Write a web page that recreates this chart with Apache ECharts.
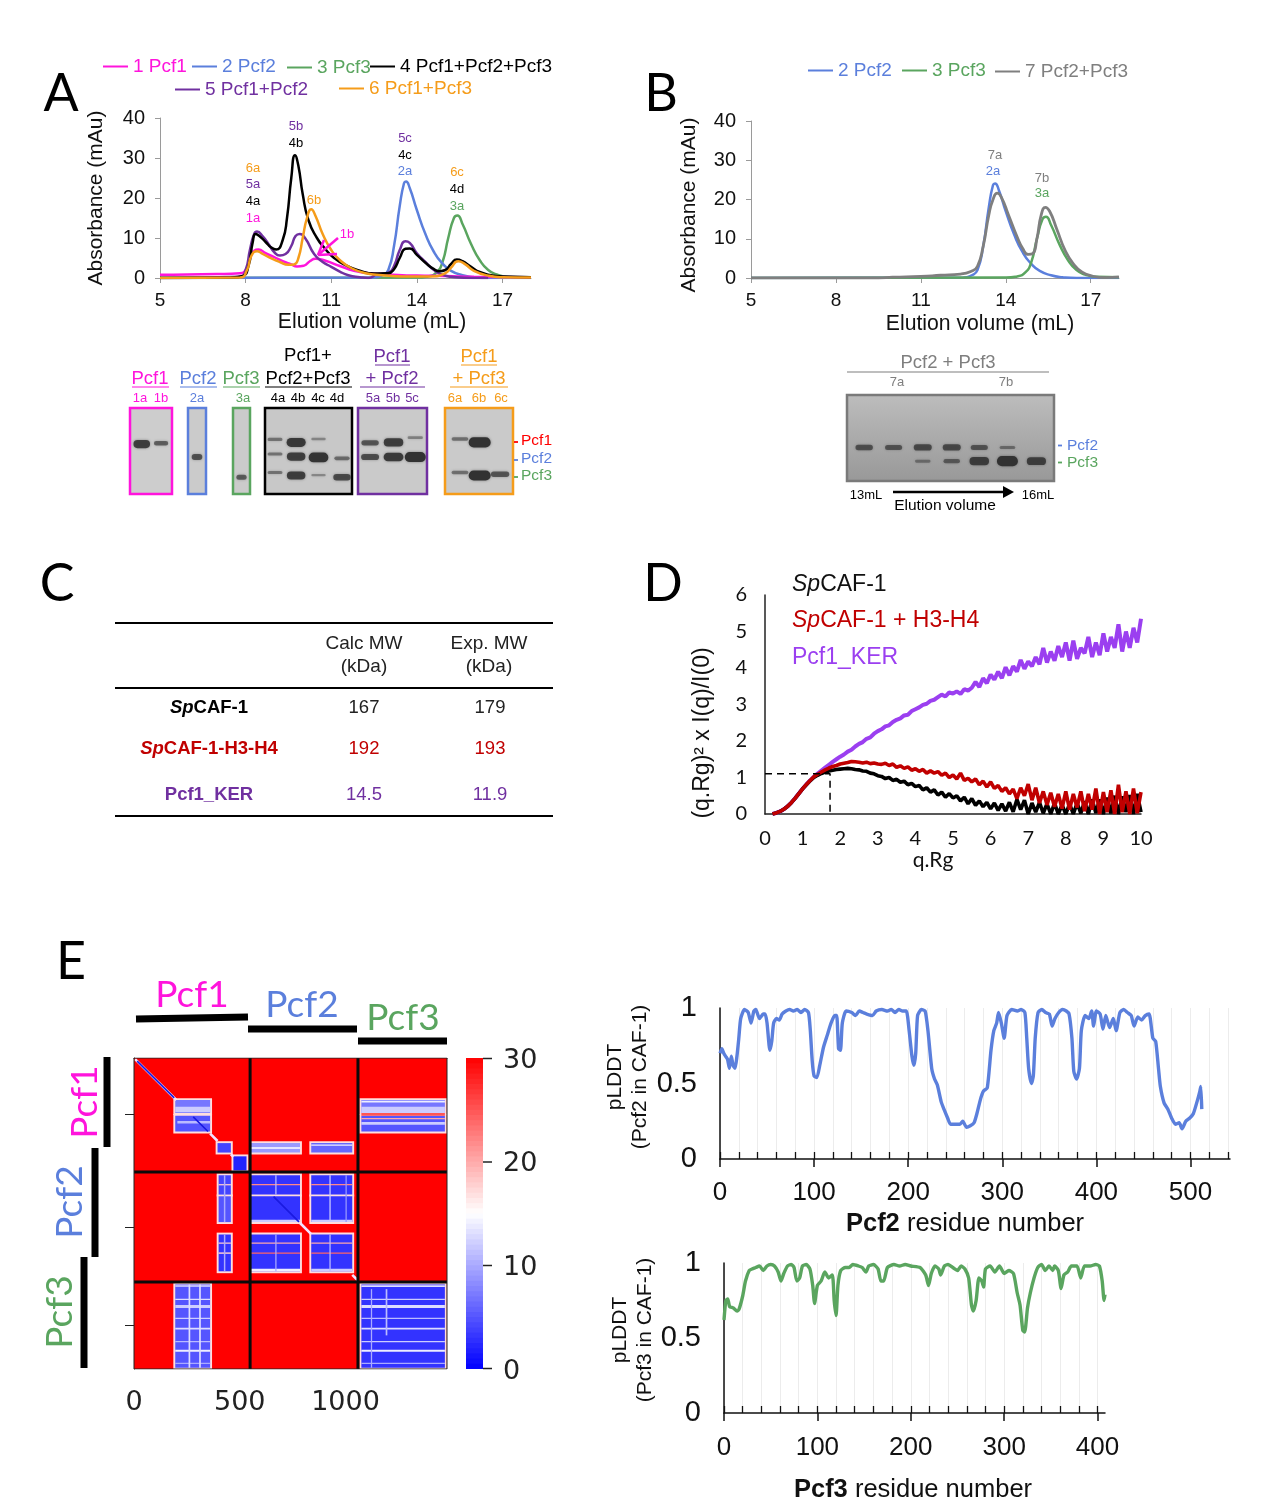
<!DOCTYPE html>
<html><head><meta charset="utf-8">
<style>html,body{margin:0;padding:0;background:#fff}#c{width:1264px;height:1500px}</style>
<script src="https://cdn.jsdelivr.net/npm/echarts@6/dist/echarts.min.js"></script>
</head><body><div id="c"></div>
<script>
// ---------- DATA ----------
const elutionTicks=[5,8,11,14,17];
const pcf1A=[[5,.8],[7,1],[7.8,1.2],[8,2],[8.15,5],[8.3,6.8],[8.45,7.1],[8.7,6.2],[9,5.2],[9.3,4.2],[9.6,3.4],[9.8,2.9],[10.05,3.1],[10.25,4.2],[10.45,4.8],[10.8,4.3],[11.3,3],[11.8,1.8],[12.3,1.2],[13,.9],[14,.6],[15,.5],[16,.3],[18,.2]];
const blue2=[[5,0],[12.5,.1],[12.8,.7],[13,2],[13.2,8],[13.4,18],[13.55,23.7],[13.62,24.1],[13.75,22.5],[14,17],[14.3,11],[14.6,6.5],[14.9,3.6],[15.2,1.8],[15.6,.7],[16,.2],[16.5,0],[18,0]];
const green3=[[5,0],[14,.1],[14.4,.4],[14.7,1.5],[14.9,4],[15.1,10],[15.3,15],[15.42,15.6],[15.6,13.5],[15.9,8.5],[16.2,4.5],[16.5,2],[16.8,.9],[17.2,.3],[18,.2]];
const black4=[[5,0],[7.5,.1],[7.9,.5],[8.1,3],[8.25,9],[8.35,11],[8.5,10.4],[8.7,9],[8.9,7.6],[9.07,7.1],[9.3,9.5],[9.45,15],[9.6,25],[9.73,30.7],[9.85,28],[10,21],[10.2,14.5],[10.5,10],[10.8,7.2],[11.1,5],[11.5,3.2],[12,1.8],[12.5,1.1],[13,1.2],[13.2,2.2],[13.4,5],[13.6,7.3],[13.75,7.4],[14,5.8],[14.3,3.8],[14.6,2.2],[14.8,1.7],[15,2],[15.2,3.5],[15.4,4.6],[15.6,4.2],[15.9,2.8],[16.2,1.5],[16.6,.7],[17,.4],[18,.2]];
const purple5=[[5,0],[7.8,.3],[8,2],[8.15,7],[8.3,11],[8.4,11.6],[8.6,10.4],[8.8,8.5],[9,6.5],[9.2,5.6],[9.4,6],[9.6,8],[9.75,10.5],[9.9,11],[10.1,9.8],[10.4,6],[10.7,4],[11,2.8],[11.3,1.6],[11.6,.7],[12,.2],[12.3,0],[12.6,.9],[13,1.3],[13.2,3],[13.4,7],[13.6,9.2],[13.75,8.8],[14,6.2],[14.3,4],[14.6,2],[14.9,.8],[15.2,.3],[16,0],[16.5,0]];
const orange6=[[5,0],[7.8,.1],[8.05,2],[8.2,5.5],[8.4,6.7],[8.6,6],[8.9,4.9],[9.2,4],[9.5,3.3],[9.7,3.4],[9.85,5],[10,10],[10.15,15],[10.3,17.2],[10.45,15.5],[10.7,11],[11,7],[11.3,4.5],[11.7,2.5],[12.2,1.2],[12.8,.7],[13.5,.4],[14.5,.4],[15,1.2],[15.2,2.6],[15.45,4.2],[15.7,3.4],[16,1.8],[16.5,.6],[17,.2],[18,.1]];
const gray7=[[5,0],[9.5,0],[10,.2],[11,.4],[11.7,.7],[12.4,1],[12.8,1.8],[13,3],[13.2,8],[13.4,16],[13.55,20],[13.7,21.6],[13.85,20.5],[14.1,16],[14.4,10.5],[14.6,7.5],[14.8,6],[14.95,6.2],[15.1,10],[15.25,16],[15.4,18],[15.55,17],[15.8,12.5],[16.1,7],[16.4,3.5],[16.7,1.5],[17,.6],[17.5,.1],[18,.3]];

const saxsQ=[.2,.3,.4,.5,.6,.7,.8,.9,1,1.1,1.2,1.3,1.4,1.5,1.6,1.7,1.8,1.9,2,2.1,2.2,2.3,2.4,2.5,2.6,2.7,2.8,2.9,3,3.1,3.2,3.3,3.4,3.5,3.6,3.7,3.8,3.9,4,4.1,4.2,4.3,4.4,4.5,4.6,4.7,4.8,4.9,5,5.1,5.2,5.3,5.4,5.5,5.6,5.7,5.8,5.9,6,6.1,6.2,6.3,6.4,6.5,6.6,6.7,6.8,6.9,7,7.1,7.2,7.3,7.4,7.5,7.6,7.7,7.8,7.9,8,8.1,8.2,8.3,8.4,8.5,8.6,8.7,8.8,8.9,9,9.1,9.2,9.3,9.4,9.5,9.6,9.7,9.8,9.9,10];
const saxsKer=[0,.03,.07,.13,.21,.31,.43,.56,.69,.81,.92,1.02,1.11,1.19,1.27,1.35,1.43,1.5,1.57,1.63,1.71,1.76,1.85,1.92,1.97,2.06,2.1,2.2,2.27,2.32,2.4,2.43,2.52,2.58,2.62,2.7,2.72,2.82,2.87,2.92,2.99,3.02,3.1,3.13,3.2,3.27,3.22,3.33,3.3,3.36,3.29,3.42,3.38,3.46,3.62,3.48,3.72,3.58,3.82,3.68,3.9,3.72,4.02,3.8,4.05,3.9,4.22,3.98,4.18,4.05,4.3,4.1,4.55,4.15,4.45,4.2,4.6,4.3,4.7,4.2,4.75,4.25,4.55,4.4,4.85,4.3,4.7,4.35,4.95,4.45,4.85,4.55,5.2,4.45,5,4.55,5.1,4.7,5.35];
const saxsH3H4=[0,.03,.07,.13,.21,.31,.43,.56,.69,.81,.92,1.02,1.09,1.15,1.21,1.26,1.3,1.33,1.37,1.39,1.41,1.44,1.43,1.42,1.4,1.42,1.38,1.4,1.37,1.36,1.39,1.33,1.37,1.28,1.32,1.25,1.29,1.2,1.24,1.17,1.22,1.12,1.18,1.12,1.16,1.06,1.12,1,1.07,.96,1.12,.92,.98,.88,.96,.8,.9,.74,.88,.7,.78,.62,.72,.55,.68,.42,.72,.5,.82,.38,.72,.3,.62,.25,.58,.2,.55,.15,.62,.12,.55,.18,.62,.08,.55,.12,.7,0,.6,.05,.65,0,.8,.05,.62,0,.7,.02,.6];
const saxsCaf=[0,.03,.07,.13,.21,.31,.43,.56,.69,.8,.91,1,1.06,1.11,1.15,1.18,1.2,1.22,1.23,1.24,1.25,1.24,1.22,1.21,1.18,1.17,1.12,1.1,1.05,1.03,.97,1,.92,.95,.87,.9,.8,.84,.75,.78,.66,.72,.6,.66,.52,.6,.46,.56,.44,.5,.36,.46,.28,.42,.24,.36,.2,.32,.14,.3,.1,.28,.08,.32,.06,.4,.12,.38,0,.3,.05,.32,.02,.28,0,.3,0,.25,0,.28,0,.3,.02,.35,0,.4,.03,.4,0,.45,.02,.5,0,.48,.05,.52,0,.55,.05];
const saxsGuide=[[0,1.1],[1.73,1.1],[1.73,0]];

const plddtPcf2=[[0,.7],[2,.73],[4,.7],[6,.68],[8,.66],[10,.6],[12,.68],[14,.62],[16,.6],[18,.68],[20,.8],[22,.93],[26,.99],[30,.97],[33,.9],[36,.98],[38,.99],[42,.93],[46,.96],[48,.96],[50,.9],[53,.72],[55,.78],[57,.9],[60,.93],[63,.92],[66,.96],[70,.98],[74,.99],[78,.98],[82,.99],[86,.97],[90,.99],[94,.97],[96,.85],[98,.65],[100,.55],[103,.54],[106,.62],[110,.74],[114,.82],[118,.9],[122,.95],[124,.95],[126,.73],[128,.72],[130,.9],[134,.98],[140,.97],[144,.95],[148,.98],[152,.97],[156,.96],[162,.95],[166,.98],[172,.99],[178,.98],[182,.99],[186,.97],[190,.99],[194,.98],[198,.98],[201,.85],[204,.68],[206,.62],[208,.7],[210,.95],[214,.99],[218,.98],[221,.85],[225,.6],[228,.53],[231,.49],[235,.38],[238,.33],[242,.27],[245,.23],[250,.23],[255,.23],[258,.25],[262,.21],[266,.22],[270,.24],[273,.3],[277,.4],[280,.45],[284,.47],[288,.72],[291,.85],[294,.9],[296,.97],[299,.9],[302,.8],[305,.95],[310,.99],[316,.98],[320,.99],[324,.97],[326,.8],[328,.6],[331,.5],[333,.55],[335,.8],[338,.97],[342,.99],[346,.97],[350,.96],[353,.88],[356,.93],[360,.97],[364,.99],[368,.98],[371,.96],[374,.8],[376,.58],[379,.53],[382,.6],[384,.85],[388,.95],[392,.93],[395,.98],[397,.88],[400,.98],[404,.96],[407,.86],[410,.95],[414,.87],[418,.93],[421,.85],[425,.97],[429,.99],[433,.97],[437,.95],[440,.88],[444,.94],[448,.92],[452,.95],[456,.96],[460,.8],[463,.78],[466,.6],[468,.48],[472,.37],[476,.33],[480,.27],[484,.23],[488,.24],[491,.2],[495,.25],[499,.27],[503,.3],[507,.38],[510,.45],[511,.48],[512,.33]];
const plddtPcf3=[[0,.62],[2,.75],[4,.76],[6,.71],[10,.7],[14,.68],[16,.69],[20,.78],[23,.88],[27,.95],[30,.96],[34,.97],[38,.98],[42,.95],[46,.98],[50,.99],[54,.98],[58,.94],[61,.88],[64,.93],[68,.98],[72,.99],[75,.97],[78,.88],[81,.9],[84,.98],[88,.99],[92,.96],[95,.85],[97,.73],[100,.85],[104,.88],[108,.94],[112,.9],[116,.92],[118,.75],[120,.65],[122,.85],[125,.95],[130,.97],[134,.97],[138,.99],[144,.98],[148,.97],[152,.94],[155,.98],[160,.99],[165,.96],[168,.88],[171,.88],[175,.97],[182,.99],[188,.98],[194,.99],[200,.98],[210,.97],[216,.92],[219,.85],[222,.93],[226,.98],[230,.96],[232,.92],[236,.98],[240,.99],[245,.97],[250,.95],[254,.98],[258,.96],[262,.9],[265,.72],[267,.68],[270,.75],[273,.9],[276,.88],[278,.84],[280,.96],[285,.98],[290,.94],[295,.98],[300,.93],[305,.95],[310,.93],[314,.8],[317,.72],[320,.55],[322,.54],[325,.7],[328,.8],[332,.9],[336,.97],[340,.99],[344,.95],[348,.98],[352,.95],[354,.98],[358,.95],[361,.83],[364,.92],[368,.94],[372,.98],[378,.98],[382,.9],[386,.98],[392,.98],[398,.99],[402,.98],[405,.88],[407,.75],[408,.79]];
const residueMajorPcf2=[0,100,200,300,400,500];
const residueMinorPcf2=[0,20,40,60,80,100,120,140,160,180,200,220,240,260,280,300,320,340,360,380,400,420,440,460,480,500,520,540];
const residueMajorPcf3=[0,100,200,300,400];
const residueMinorPcf3=[0,20,40,60,80,100,120,140,160,180,200,220,240,260,280,300,320,340,360,380,400];

// PAE regions: x0,x1,y0,y1,value
const paeBackground=[[0,1480,0,1480,30]];
const paeRegions=[[195,360,200,262,7],[195,360,275,350,5],[395,458,405,450,4],[470,532,468,535,2],
[553,785,405,450,9],[838,1032,405,450,6],[1075,1470,200,262,7],[1075,1470,275,350,5],
[400,458,558,650,4],[400,458,658,781,5],[400,458,840,1015,3],
[553,785,558,650,3],[553,785,658,781,3],[553,785,840,1015,3],[838,1032,558,650,3],[838,1032,658,781,3],[838,1032,840,1015,3],
[195,360,1078,1474,5],[1075,1470,1078,1474,3]];
const paeStripes=[
[1075,1470,204,212,14],[1075,1470,232,262,12],[1075,1470,262,275,25],[1075,1470,285,292,20],[1075,1470,305,318,12],
[195,360,232,258,12],[205,360,300,312,11],
[553,785,425,432,15],[838,1032,412,418,14],
[553,785,600,606,22],[838,1032,600,606,22],[400,458,600,606,18],
[553,785,878,884,20],[838,1032,878,884,20],[400,458,878,884,18],
[553,785,925,932,24],[838,1032,925,932,24],[400,458,925,932,18],
[553,785,770,780,12],[838,1032,770,780,12],[553,785,1003,1015,14],[838,1032,1003,1015,12],
[425,432,558,781,10],[425,432,840,1015,10],
[668,674,558,650,11],[668,674,840,1015,10],[924,930,558,781,12],[924,930,840,1015,11],[1000,1006,558,781,9],
[195,360,1082,1088,13],[1075,1470,1082,1090,13],[195,360,1146,1152,13],[1075,1470,1146,1152,12],
[195,360,1176,1190,12],[1075,1470,1176,1190,13],[195,360,1236,1242,12],[1075,1470,1236,1242,11],
[195,360,1284,1292,13],[1075,1470,1284,1292,13],[195,360,1347,1353,11],[1075,1470,1347,1353,12],
[195,360,1388,1398,14],[1075,1470,1388,1398,14],[195,360,1450,1456,10],[1075,1470,1450,1456,10],
[258,266,1078,1474,13],[308,316,1078,1474,13],[1190,1198,1100,1320,11],[1120,1126,1100,1474,10]];
const paeDiagonal=[[5,5],[200,200],['-','-'],[360,360],[395,395],['-','-'],[458,458],[470,470],['-','-'],[785,785],[838,838],['-','-'],[1032,1032],[1060,1060]];
const paeDiagonalCore=[[15,15],[190,190],['-','-'],[280,280],[350,350],['-','-'],[660,660],[780,780]];
const paeDividers=[[549,0],[549,1480],['-','-'],[1059,0],[1059,1480],['-','-'],[0,543],[1480,543],['-','-'],[0,1066],[1480,1066]];
const paeFrame=[[0,0],[1480,0],[1480,1480],[0,1480],[0,0]];
const paeTicksX=[0,500,1000];
const paeTicksY=[270,805,1274];
const colorLevels=[0,.5,1,1.5,2,2.5,3,3.5,4,4.5,5,5.5,6,6.5,7,7.5,8,8.5,9,9.5,10,10.5,11,11.5,12,12.5,13,13.5,14,14.5,15,15.5,16,16.5,17,17.5,18,18.5,19,19.5,20,20.5,21,21.5,22,22.5,23,23.5,24,24.5,25,25.5,26,26.5,27,27.5,28,28.5,29,29.5];
const colorTicks=[0,10,20,30];

// gels: relative lane x, migration, intensity
const gelPcf1=[[.28,.42,.75],[.74,.41,.3]];
const gelPcf2=[[.5,.57,.45]];
const gelPcf3=[[.5,.805,.35]];
const gelFull=[[.115,.365,.12],[.115,.535,.12],[.115,.75,.12],[.358,.4,.85],[.358,.565,.75],[.358,.785,.75],[.615,.36,.03],[.615,.575,.95],[.615,.78,.02],[.885,.585,.18],[.885,.805,.55]];
const gelPcf12=[[.175,.405,.4],[.175,.57,.5],[.515,.4,.75],[.515,.57,.8],[.83,.345,.05],[.83,.57,1]];
const gelPcf13=[[.22,.36,.15],[.22,.75,.15],[.51,.4,1],[.51,.785,1],[.81,.77,.4]];
const gelB=[[.083,.61,.4],[.225,.61,.35],[.366,.61,.5],[.506,.61,.5],[.639,.61,.35],[.775,.61,.1],[.366,.77,.08],[.506,.77,.25],[.639,.77,.75],[.775,.77,1],[.915,.77,.7]];

const tableHeader=['Calc MW','(kDa)','Exp. MW','(kDa)'];
const tableRows=[['{i|Sp}CAF-1','167','179','#000000'],['{i|Sp}CAF-1-H3-H4','192','193','#c00000'],['Pcf1_KER','14.5','11.9','#7030a0']];

// ---------- COLOURS / FONTS ----------
const MAG='#ff14dc',BLU='#5b7fdc',GRN='#5aa55f',PUR='#7030a0',ORA='#f59c1a',GRY='#7f7f7f',VIO='#9b3ff0',DRD='#c00000';
const AR='"Liberation Sans"',LA='Lato';

const grids=[],xAxes=[],yAxes=[],series=[],graphic=[],legends=[];
function addGrid(g,x,y){grids.push(Object.assign({containLabel:false},g));const i=grids.length-1;
  xAxes.push(Object.assign({gridIndex:i,type:'value',splitLine:{show:false}},x));
  yAxes.push(Object.assign({gridIndex:i,type:'value',splitLine:{show:false}},y));return i;}
function line(name,data,color,g,width,extra){series.push(Object.assign({name,type:'line',data,xAxisIndex:g,yAxisIndex:g,showSymbol:false,symbol:'none',
  smooth:0.55,lineStyle:{color,width:width||2.5},itemStyle:{color},silent:true,animation:false,z:3},extra||{}));}

function txt(t,x,y,size,fill,o){o=o||{};graphic.push({type:'text',x,y,rotation:o.rot||0,z:100,style:{text:t,fill,fontSize:size,fontFamily:o.font||AR,fontWeight:o.w||'normal',fontStyle:o.st||'normal',align:o.align||'center',verticalAlign:'middle',rich:o.rich}});}
function seg(x1,y1,x2,y2,c,w,o){graphic.push({type:'line',z:100,shape:{x1,y1,x2,y2},style:Object.assign({stroke:c,lineWidth:w||1},o||{})});}
function leg(name,left,top,color){legends.push({data:[{name,textStyle:{color}}],left,top,icon:'rect',itemWidth:25,itemHeight:2,padding:0,itemGap:0,selectedMode:false,textStyle:{fontFamily:AR,fontSize:19}});}

// ---------- A & B chromatograms ----------
function chromAxes(){return [
 {min:5,max:18,axisLine:{onZero:false,lineStyle:{color:'#9a9a9a'}},axisTick:{length:5,lineStyle:{color:'#9a9a9a'},customValues:elutionTicks},axisLabel:{color:'#111',fontFamily:AR,fontSize:19,margin:13,customValues:elutionTicks}},
 {min:0,max:40,interval:10,axisLine:{show:true,lineStyle:{color:'#9a9a9a'}},axisTick:{show:true,length:5,lineStyle:{color:'#9a9a9a'}},axisLabel:{color:'#111',fontFamily:AR,fontSize:20,margin:15}}];}
let a=chromAxes();const gA=addGrid({left:160,top:118,width:371,height:160},a[0],a[1]);
line('3 Pcf3',green3,GRN,gA);line('2 Pcf2',blue2,BLU,gA);line('1 Pcf1',pcf1A,MAG,gA);line('5 Pcf1+Pcf2',purple5,PUR,gA);line('4 Pcf1+Pcf2+Pcf3',black4,'#000',gA);line('6 Pcf1+Pcf3',orange6,ORA,gA);
a=chromAxes();const gB=addGrid({left:751,top:121,width:368,height:157},a[0],a[1]);
line('2 Pcf2',blue2,BLU,gB);line('3 Pcf3',green3,GRN,gB);line('7 Pcf2+Pcf3',gray7,GRY,gB,2.8);

leg('1 Pcf1',103,57,MAG);leg('2 Pcf2',192,57,BLU);leg('3 Pcf3',287,58,GRN);leg('4 Pcf1+Pcf2+Pcf3',370,57,'#000');
leg('5 Pcf1+Pcf2',175,80,PUR);leg('6 Pcf1+Pcf3',339,79,ORA);
leg('2 Pcf2',808,61,BLU);leg('3 Pcf3',902,61,GRN);leg('7 Pcf2+Pcf3',995,62,GRY);

txt('Absorbance (mAu)',96,198,21,'#111',{rot:Math.PI/2});
txt('Elution volume (mL)',372,322,21.2,'#111');
txt('Absorbance (mAu)',689,205,21,'#111',{rot:Math.PI/2});
txt('Elution volume (mL)',980,324,21.2,'#111');
[['6a',253,168,ORA],['5a',253,184,PUR],['4a',253,201,'#000'],['1a',253,218,MAG],['5b',296,126,PUR],['4b',296,143,'#000'],['5c',405,138,PUR],['4c',405,155,'#000'],['2a',405,171,BLU],['6c',457,172,ORA],['4d',457,189,'#000'],['3a',457,206,GRN],['6b',314,200,ORA],['1b',347,234,MAG],['7a',995,155,GRY],['2a',993,171,BLU],['7b',1042,178,GRY],['3a',1042,193,GRN]]
 .forEach(l=>txt(l[0],l[1],l[2],13,l[3]));
seg(338,238,318,255,MAG,2.5);seg(318,255,337,254,MAG,2.5);seg(318,255,324,240,MAG,2.5);

// ---------- Gels ----------
function gel(data,left,top,width,height,border,bg,laneW){
 const g=addGrid({left,top,width,height,show:true,backgroundColor:bg,borderColor:border,borderWidth:2.5},{min:0,max:1,show:false},{min:0,max:1,inverse:true,show:false});
 series.push({type:'custom',xAxisIndex:g,yAxisIndex:g,data,silent:true,animation:false,clip:true,z:3,renderItem:(p,api)=>{
   const c=api.coord([api.value(0),api.value(1)]),i=api.value(2),w=laneW*(.75+.3*i),h=2.2+8*i;
   return {type:'rect',shape:{x:c[0]-w/2,y:c[1]-h/2,width:w,height:h,r:h/2},style:{fill:'rgba(50,50,50,'+(.3+.7*Math.pow(i,.6)).toFixed(2)+')',shadowBlur:3,shadowColor:'rgba(60,60,60,.55)'}};}});
}
const vGrad=(t,b)=>new echarts.graphic.LinearGradient(0,0,0,1,[{offset:0,color:t},{offset:1,color:b}]);
gel(gelPcf1,130,408,42,86,MAG,'#cdcdcd',17);
gel(gelPcf2,188,408,18,86,BLU,'#cbcbcb',12);
gel(gelPcf3,233,408,17,86,GRN,'#cbcbcb',12);
gel(gelFull,265,408,87,86,'#000','#c8c8c8',19);
gel(gelPcf12,358,408,69,86,PUR,'#cacaca',20);
gel(gelPcf13,445,408,68,86,ORA,'#cacaca',21);
gel(gelB,847,395,207,86,'#7a7a7a',vGrad('#bdbdbd','#989898'),20);

[['Pcf1',150,379,MAG,132,169],['Pcf2',198,379,BLU,180,217],['Pcf3',241,379,GRN,223,260],['Pcf2+Pcf3',308,379,'#000',265,352],['+ Pcf2',392,379,PUR,360,425],['+ Pcf3',479,379,ORA,450,508]]
 .forEach(l=>{txt(l[0],l[1],l[2],18.5,l[3]);seg(l[4],387,l[5],387,l[3],1.2);});
txt('Pcf1+',308,356,18.5,'#000');
txt('Pcf1',392,357,18.5,PUR);seg(375,365,410,365,PUR,1.2);
txt('Pcf1',479,357,18.5,ORA);seg(461,365,497,365,ORA,1.2);
[['1a',140,MAG],['1b',161,MAG],['2a',197,BLU],['3a',243,GRN],['4a',278,'#000'],['4b',298,'#000'],['4c',318,'#000'],['4d',337,'#000'],['5a',373,PUR],['5b',393,PUR],['5c',412,PUR],['6a',455,ORA],['6b',479,ORA],['6c',501,ORA]]
 .forEach(l=>txt(l[0],l[1],398,13,l[2]));
[['Pcf1',441,'#ff0000'],['Pcf2',459,BLU],['Pcf3',476,GRN]].forEach(l=>{txt(l[0],521,l[1],15.5,l[2],{align:'left'});seg(514,l[1]+1,518,l[1]+1,l[2],1.8);});
txt('Pcf2 + Pcf3',948,363,18.5,GRY);seg(847,372,1049,372,GRY,1.2);
txt('7a',897,382,13,GRY);txt('7b',1006,382,13,GRY);
[['Pcf2',446,BLU],['Pcf3',463,GRN]].forEach(l=>{txt(l[0],1067,l[1],15.5,l[2],{align:'left'});seg(1058,l[1]-.5,1062,l[1]-.5,l[2],1.8);});
txt('13mL',866,495,13,'#000');txt('16mL',1038,495,13,'#000');txt('Elution volume',945,506,15.5,'#000');
seg(893,492,1004,492,'#000',2.5);
graphic.push({type:'polygon',z:100,shape:{points:[[1003,486],[1014,492],[1003,498]]},style:{fill:'#000'}});

// ---------- C table ----------
[623,688,816].forEach(y=>seg(115,y,553,y,'#000',2));
txt(tableHeader[0],364,644,19,'#222');txt(tableHeader[1],364,667,19,'#222');txt(tableHeader[2],489,644,19,'#222');txt(tableHeader[3],489,667,19,'#222');
const rowY=[708,749,795];
tableRows.forEach((r,i)=>{
 txt(r[0],209,rowY[i],18.5,r[3],{w:'bold',rich:{i:{fontStyle:'italic',fontWeight:'bold',fontFamily:AR,fontSize:18.5,fill:r[3]}}});
 txt(r[1],364,rowY[i],18.5,r[3]==='#000000'?'#222':r[3]);txt(r[2],490,rowY[i],18.5,r[3]==='#000000'?'#222':r[3]);
});

// ---------- D SAXS ----------
const gD=addGrid({left:765,top:595,width:376,height:219},
 {min:0,max:10,interval:1,axisLine:{lineStyle:{color:'#222',width:1.5}},axisTick:{show:false},axisLabel:{color:'#111',fontFamily:LA,fontSize:20,margin:15}},
 {min:0,max:6,interval:1,axisLine:{show:true,lineStyle:{color:'#222',width:1.5}},axisTick:{show:false},axisLabel:{color:'#111',fontFamily:LA,fontSize:20,margin:18}});
const zip=v=>saxsQ.map((q,i)=>[q,v[i]]);
line('Pcf1_KER',zip(saxsKer),VIO,gD,4,{smooth:false});
line('SpCAF-1',zip(saxsCaf),'#000',gD,3.6,{smooth:false});
line('SpCAF-1 + H3-H4',zip(saxsH3H4),DRD,gD,3.6,{smooth:false});
line('guide',saxsGuide,'#000',gD,1.5,{smooth:false,lineStyle:{color:'#000',width:1.5,type:[7,5]},z:5});
const spRich=c=>({i:{fontStyle:'italic',fontFamily:AR,fontSize:23,fill:c}});
txt('{i|Sp}CAF-1',792,585,23,'#111',{align:'left',rich:spRich('#111')});
txt('{i|Sp}CAF-1 + H3-H4',792,621,23,DRD,{align:'left',rich:spRich(DRD)});
txt('Pcf1_KER',792,658,23,VIO,{align:'left'});
txt('(q.Rg)\u00B2 x I(q)/I(0)',703,733,23,'#111',{rot:Math.PI/2});
txt('q.Rg',933,860,21,'#111',{font:LA});

// ---------- E PAE heat map ----------
function blockRender(p,api){const a=api.coord([api.value(0),api.value(2)]),b=api.coord([api.value(1),api.value(3)]);
 return {type:'rect',shape:{x:Math.min(a[0],b[0]),y:Math.min(a[1],b[1]),width:Math.abs(b[0]-a[0]),height:Math.abs(b[1]-a[1])},style:{fill:api.visual('color')}};}
const gH=addGrid({left:134,top:1058,width:313,height:311},
 {min:0,max:1480,axisLine:{lineStyle:{color:'#222',width:1}},axisTick:{length:8,lineStyle:{color:'#222'},customValues:paeTicksX},axisLabel:{color:'#222',fontFamily:'"DejaVu Sans"',fontSize:27,margin:20,formatter:v=>String(v),customValues:paeTicksX}},
 {min:0,max:1480,inverse:true,axisLine:{show:true,lineStyle:{color:'#222',width:1}},axisTick:{show:true,length:9,lineStyle:{color:'#222'},customValues:paeTicksY},axisLabel:{show:false}});
const halos=paeRegions.map(r=>[r[0]-9,r[1]+9,r[2]-9,r[3]+9,17]);
const heatCells=paeBackground.concat(halos,paeRegions,paeStripes);
const heatIdx=series.length;
series.push({type:'custom',xAxisIndex:gH,yAxisIndex:gH,data:heatCells,renderItem:blockRender,encode:{x:[0,1],y:[2,3]},silent:true,animation:false,clip:true,z:2});
line('diag',paeDiagonal,'#f4e0ff',gH,2.6,{smooth:false,z:3,connectNulls:false});
line('diagCore',paeDiagonalCore,'#1a1ae0',gH,1.6,{smooth:false,z:3,connectNulls:false});
line('dividers',paeDividers,'#0a0a0a',gH,3,{smooth:false,z:4,connectNulls:false});
line('frame',paeFrame,'#222',gH,1,{smooth:false,z:4});

const gC=addGrid({left:466,top:1058,width:17,height:311},{min:0,max:1,show:false},
 {min:0,max:30,position:'right',interval:10,axisLine:{show:false},axisTick:{show:false},axisLabel:{color:'#222',margin:20,customValues:colorTicks,formatter:'{a|{value}}',rich:{a:{fontFamily:'"DejaVu Sans"',fontSize:27,color:'#222',padding:[5,0,0,0]}}}});
const cbIdx=series.length;
series.push({type:'custom',xAxisIndex:gC,yAxisIndex:gC,data:colorLevels.map(v=>[0,1,v,v+.6,v+.25]),renderItem:blockRender,encode:{x:[0,1],y:[2,3]},silent:true,animation:false,clip:true,z:2});
[1058.5,1162,1265.5,1368.5].forEach(y=>seg(483,y,492,y,'#222',1.5));

txt('Pcf1',192,995,37,MAG,{font:LA});txt('Pcf2',302,1005,37,BLU,{font:LA});txt('Pcf3',403,1018,37,GRN,{font:LA});
seg(136,1019,248,1017,'#000',7);seg(248,1029,357,1029,'#000',7);seg(358,1041,447,1041,'#000',7);
seg(107,1057,107,1147,'#000',7);seg(95,1148,95,1257,'#000',7);seg(84,1257,84,1368,'#000',7);
txt('Pcf1',85,1102,37,MAG,{font:LA,rot:Math.PI/2});txt('Pcf2',70,1202,37,BLU,{font:LA,rot:Math.PI/2});txt('Pcf3',60,1312,37,GRN,{font:LA,rot:Math.PI/2});

// ---------- E pLDDT ----------
function plddt(name,data,color,left,top,width,height,max,maj,min,lm){
 grids.push({left,top,width,height,containLabel:false});const g=grids.length-1;
 const xi=xAxes.length;
 xAxes.push({gridIndex:g,type:'value',min:0,max,splitLine:{show:false},axisLine:{lineStyle:{color:'#111',width:1.5}},axisTick:{length:8,lineStyle:{color:'#111',width:1.5},customValues:maj},axisLabel:{color:'#111',fontFamily:AR,fontSize:26,margin:lm,customValues:maj}});
 xAxes.push({gridIndex:g,type:'value',min:0,max,position:'bottom',axisLine:{show:false},axisTick:{inside:true,length:7,lineStyle:{color:'#111',width:1.3},customValues:min},axisLabel:{show:false},splitLine:{show:true,lineStyle:{color:'#ececec',width:1}}});
 const yi=yAxes.length;
 yAxes.push({gridIndex:g,type:'value',min:0,max:1,interval:.5,splitLine:{show:false},axisLine:{show:true,lineStyle:{color:'#111',width:1.5}},axisTick:{show:false},axisLabel:{color:'#111',fontFamily:AR,fontSize:29,margin:23,padding:[4,0,0,0]}});
 series.push({name,type:'line',data,xAxisIndex:xi,yAxisIndex:yi,symbol:'none',showSymbol:false,smooth:.2,lineStyle:{color,width:3.4},itemStyle:{color},silent:true,animation:false,z:3});
}
plddt('Pcf2 pLDDT',plddtPcf2,BLU,720,1008,510,151,542,residueMajorPcf2,residueMinorPcf2,21);
plddt('Pcf3 pLDDT',plddtPcf3,GRN,724,1263,381,150,408,residueMajorPcf3,residueMinorPcf3,22);
txt('pLDDT',615,1077,21,'#111',{rot:Math.PI/2});txt('(Pcf2 in CAF-1)',640,1077,21,'#111',{rot:Math.PI/2});
txt('pLDDT',620,1330,21,'#111',{rot:Math.PI/2});txt('(Pcf3 in CAF-1)',645,1330,21,'#111',{rot:Math.PI/2});
const bRich={b:{fontWeight:'bold',fontFamily:AR,fontSize:25.5,fill:'#111'}};
txt('{b|Pcf2} residue number',965,1224,25.5,'#111',{rich:bRich});
txt('{b|Pcf3} residue number',913,1490,25.5,'#111',{rich:bRich});

// ---------- Panel letters ----------
[['A',61,94],['B',661,94],['C',57,584],['D',663,584],['E',71,962]].forEach(l=>txt(l[0],l[1],l[2],52,'#000',{font:LA}));

const chart=echarts.init(document.getElementById('c'),null,{renderer:'canvas',width:1264,height:1500});
chart.setOption({animation:false,backgroundColor:'#fff',tooltip:{show:false},
 grid:grids,xAxis:xAxes,yAxis:yAxes,series,graphic:{elements:graphic},legend:legends,
 visualMap:[{type:'continuous',show:false,min:0,max:30,dimension:4,seriesIndex:[heatIdx,cbIdx],inRange:{color:['#0000ff','#ffffff','#ff0000']}}]});
</script></body></html>
